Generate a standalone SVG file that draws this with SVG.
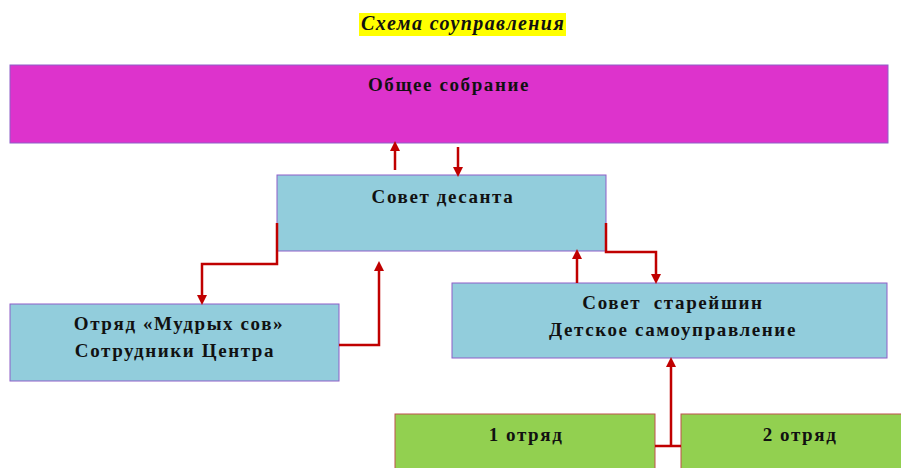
<svg xmlns="http://www.w3.org/2000/svg" width="901" height="468" viewBox="0 0 901 468">
<style>
text{font-family:"Liberation Serif","Times New Roman",serif;font-weight:bold;font-size:19px;letter-spacing:1.6px;fill:#111;text-anchor:middle}
.blue{fill:#92CDDC;stroke:#8E5FC8;stroke-width:1}
.green{fill:#92D050;stroke:#C0504D;stroke-width:1}
.c{fill:none;stroke:#C00000;stroke-width:2.5}
</style>
<defs>
<marker id="ah" markerWidth="10" markerHeight="10" refX="5" refY="5" orient="auto" markerUnits="userSpaceOnUse">
<path d="M0,0 L10,5 L0,10 Z" fill="#C00000"/>
</marker>
</defs>
<rect x="359" y="13" width="207" height="23" fill="#FFFF00"/>
<text x="463" y="30" style="font-style:italic;font-size:20px;letter-spacing:1.4px">Схема соуправления</text>
<g id="n-obshee">
<rect x="10" y="65" width="878" height="78" fill="#DD33CC" stroke="#8E5FC8" stroke-width="1"/>
<text x="449" y="91">Общее собрание</text>
</g>
<g id="n-desant">
<rect class="blue" x="277" y="175" width="329" height="76"/>
<text x="443" y="203">Совет десанта</text>
</g>
<g id="n-sov">
<rect class="blue" x="10" y="304" width="329" height="77"/>
<text x="179" y="330">Отряд «Мудрых сов»</text>
<text x="175" y="357">Сотрудники Центра</text>
</g>
<g id="n-star">
<rect class="blue" x="452" y="283" width="435" height="75"/>
<text x="673" y="309" style="white-space:pre">Совет  старейшин</text>
<text x="673" y="336">Детское самоуправление</text>
</g>
<g id="n-otr1">
<rect class="green" x="395" y="414" width="260" height="60"/>
<text x="526" y="441">1 отряд</text>
</g>
<g id="n-otr2">
<rect class="green" x="681" y="414" width="230" height="60"/>
<text x="800" y="441">2 отряд</text>
</g>
<g id="connectors">
<path class="c" d="M395,170 V146" marker-end="url(#ah)"/>
<path class="c" d="M458,147 V172" marker-end="url(#ah)"/>
<path class="c" d="M277,223 V264 H202 V300" marker-end="url(#ah)"/>
<path class="c" d="M339,345 H379 V266" marker-end="url(#ah)"/>
<path class="c" d="M606,223 V252 H656 V279" marker-end="url(#ah)"/>
<path class="c" d="M577,283 V254" marker-end="url(#ah)"/>
<path class="c" d="M655,446 H681 M671,446 V362" marker-end="url(#ah)"/>
</g>
</svg>
